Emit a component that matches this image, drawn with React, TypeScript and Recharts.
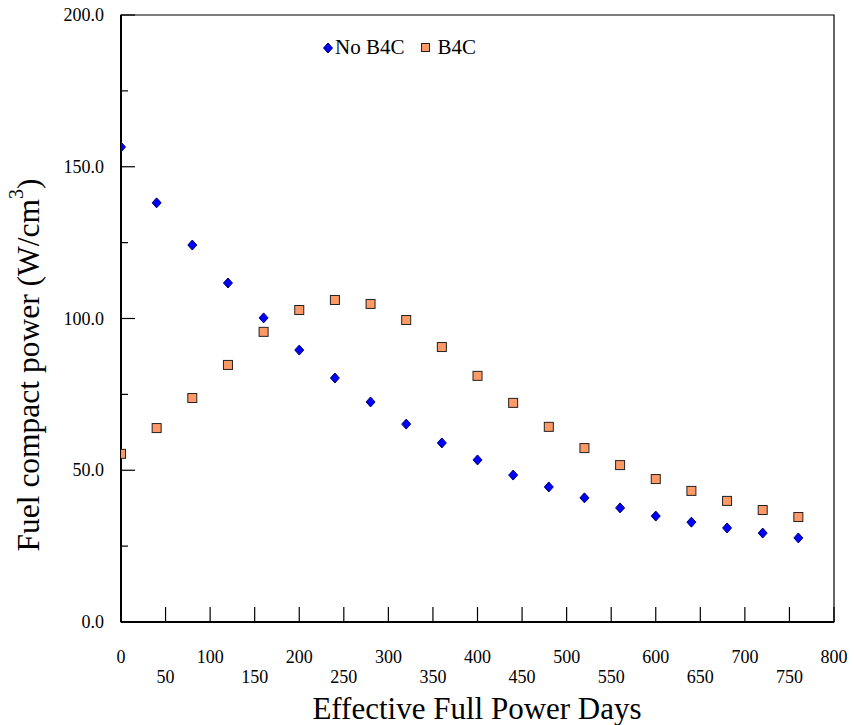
import React from 'react';
import {
  ScatterChart, Scatter, XAxis, YAxis, ReferenceArea, Label,
} from 'recharts';

const days = [0, 40, 80, 120, 160, 200, 240, 280, 320, 360, 400, 440, 480, 520, 560, 600, 640, 680, 720, 760];
const noB4C = [156.5, 138.1, 124.2, 111.7, 100.2, 89.6, 80.4, 72.5, 65.2, 59.0, 53.4, 48.4, 44.5, 40.9, 37.6, 34.9, 32.9, 31.0, 29.3, 27.7];
const withB4C = [55.4, 63.9, 73.8, 84.7, 95.6, 102.8, 106.1, 104.8, 99.5, 90.6, 81.1, 72.2, 64.3, 57.3, 51.7, 47.1, 43.2, 39.9, 36.9, 34.6];
const xTicks = [0, 50, 100, 150, 200, 250, 300, 350, 400, 450, 500, 550, 600, 650, 700, 750, 800];
const yTicks = [0, 25, 50, 75, 100, 125, 150, 175, 200];

const FONT = 'Liberation Serif, DejaVu Serif, Times New Roman, serif';

const noData = days.map((d, i) => ({ x: d, y: noB4C[i] }));
const b4cData = days.map((d, i) => ({ x: d, y: withB4C[i] }));

const Diamond = ({ cx, cy }: any) => (
  <path
    d={`M${cx},${cy - 5}L${cx + 4.5},${cy}L${cx},${cy + 5}L${cx - 4.5},${cy}Z`}
    fill="#0000ff"
    stroke="#000066"
    strokeWidth={1}
  />
);

const Square = ({ cx, cy }: any) => (
  <rect x={cx - 4.5} y={cy - 4.5} width={9} height={9} fill="#ff9966" stroke="#222" strokeWidth={1} />
);

const XTick = ({ x, y, payload }: any) => {
  const v = payload.value;
  const lower = v % 100 !== 0;
  return (
    <g>
      <line x1={x} x2={x} y1={y} y2={y - 15} stroke="#000" strokeWidth={1.2} />
      <text x={x} y={y + (lower ? 55 : 35)} textAnchor="middle" dominantBaseline="central"
        style={{ fontFamily: FONT, fontSize: 18 }} fill="#000">{v}</text>
    </g>
  );
};

const YTick = ({ x, y, payload }: any) => {
  const v = payload.value;
  const major = v % 50 === 0;
  return (
    <g>
      <line x1={x} x2={x + (major ? 14 : 7)} y1={y} y2={y} stroke="#000" strokeWidth={1.2} />
      {major && (
        <text x={x - 17} y={y} textAnchor="end" dominantBaseline="central"
          style={{ fontFamily: FONT, fontSize: 18 }} fill="#000">{v.toFixed(1)}</text>
      )}
    </g>
  );
};

const LegendBox = () => (
  <div style={{
    position: 'absolute', left: 323, top: 37, display: 'flex', alignItems: 'center',
    fontFamily: FONT, fontSize: 21, color: '#000', lineHeight: 1,
  }}>
    <svg width={10} height={12} style={{ marginRight: 2 }}>
      <path d="M5,1L9.5,6L5,11L0.5,6Z" fill="#0000ff" stroke="#000066" />
    </svg>
    <span>No B4C</span>
    <svg width={9} height={9} style={{ marginLeft: 17, marginRight: 7 }}>
      <rect x={0.5} y={0.5} width={8} height={8} fill="#ff9966" stroke="#222" />
    </svg>
    <span>B4C</span>
  </div>
);

const YTitle = () => (
  <text x={28} y={365} transform="rotate(-90, 28, 365)" textAnchor="middle" dominantBaseline="central"
    style={{ fontFamily: FONT, fontSize: 31.5 }} fill="#000">
    Fuel compact power (W/cm<tspan dy={-12} style={{ fontSize: 20 }}>3</tspan><tspan dy={12}>)</tspan>
  </text>
);

const XTitle = () => (
  <text x={477} y={708} textAnchor="middle" dominantBaseline="central"
    style={{ fontFamily: FONT, fontSize: 31 }} fill="#000">Effective Full Power Days</text>
);

export default function App() {
  return (
    <div style={{ position: 'absolute', left: 0, top: 0, width: 854, height: 725, background: '#fff' }}>
      <ScatterChart width={854} height={725} margin={{ top: 15, right: 20, bottom: 0, left: 0 }}>
        <ReferenceArea x1={0} x2={800} y1={0} y2={200} fill="none" stroke="#000" strokeWidth={1.2} ifOverflow="visible" />
        <XAxis
          type="number"
          dataKey="x"
          domain={[0, 800]}
          ticks={xTicks}
          interval={0}
          height={103}
          tickSize={0}
          tickMargin={0}
          tick={<XTick />}
          axisLine={{ stroke: '#000', strokeWidth: 2 }}
          allowDataOverflow
        >
          <Label content={<XTitle />} />
        </XAxis>
        <YAxis
          type="number"
          dataKey="y"
          domain={[0, 200]}
          ticks={yTicks}
          interval={0}
          width={121}
          tickSize={0}
          tickMargin={0}
          tick={<YTick />}
          axisLine={{ stroke: '#000', strokeWidth: 2 }}
          allowDataOverflow
        >
          <Label content={<YTitle />} />
        </YAxis>
        <Scatter name="No B4C" data={noData} shape={<Diamond />} isAnimationActive={false} />
        <Scatter name="B4C" data={b4cData} shape={<Square />} isAnimationActive={false} />
      </ScatterChart>
      <LegendBox />
    </div>
  );
}
